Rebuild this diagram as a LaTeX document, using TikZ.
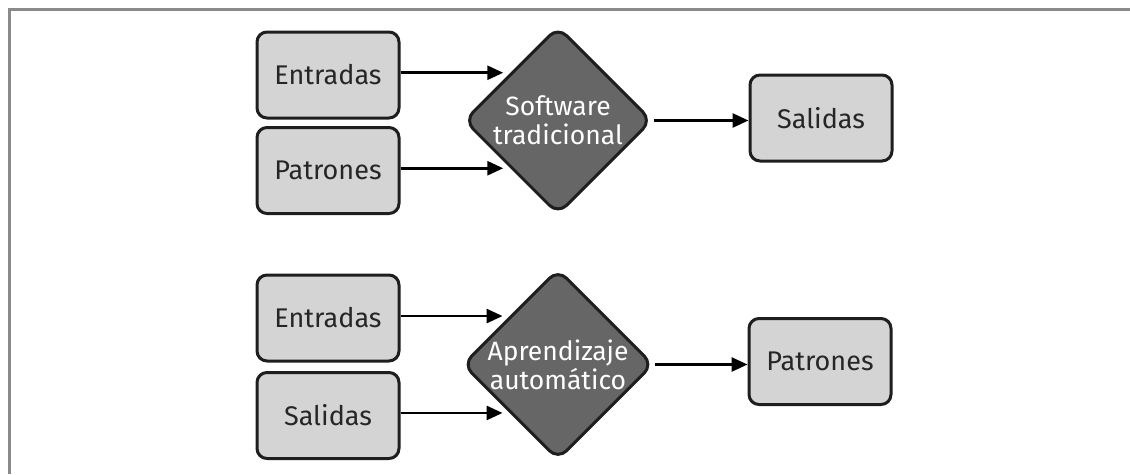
\documentclass[tikz,border=0pt]{standalone}
\usepackage{fontspec}
\setmainfont{Fira Sans}
\usetikzlibrary{shapes.geometric,arrows.meta}
\definecolor{boxfill}{HTML}{D4D4D4}
\definecolor{diafill}{HTML}{666666}
\definecolor{edge}{HTML}{1E1E1E}
\definecolor{framecol}{HTML}{8A8A8A}
\tikzset{
  boxnode/.style={draw=edge, fill=boxfill, line width=3pt, rounded corners=10pt,
    minimum width=142pt, minimum height=86pt, inner sep=0pt,
    font=\fontsize{27}{30}\selectfont, text=black!85},
  dianode/.style={draw=edge, fill=diafill, line width=3pt, diamond, aspect=1,
    rounded corners=12pt, minimum width=188pt, minimum height=188pt, inner sep=0pt,
    font=\fontsize{26.5}{29}\selectfont, text=white, align=center},
  conn/.style={line width=2.8pt, draw=black, -{Triangle[length=16pt,width=14pt]}},
}
\begin{document}
\begin{tikzpicture}[x=1pt,y=-1pt]
\useasboundingbox (0,0) rectangle (1130,474);
\draw[framecol, line width=3pt] (9,474) -- (9,9) -- (1130,9);
% top group
\node[boxnode] (ent1) at (328,75) {Entradas};
\node[boxnode] (pat1) at (328,170.5) {Patrones};
\node[dianode] (soft) at (558,120.5) {Software\\tradicional};
\node[boxnode] (sal1) at (821,118) {Salidas};
\draw[conn, shorten >=7pt] (ent1.east |- soft.north west) -- (soft.north west);
\draw[conn, shorten >=7pt] (pat1.east |- soft.south west) -- (soft.south west);
\draw[conn] (soft.east) -- (sal1.west |- soft.east);
% bottom group
\node[boxnode] (ent2) at (328,318) {Entradas};
\node[boxnode] (sal2) at (328,415.5) {Salidas};
\node[dianode] (apr) at (558,364.5) {Aprendizaje\\automático};
\node[boxnode] (pat2) at (820,361.5) {Patrones};
\draw[conn, shorten >=7pt] (ent2.east |- apr.north west) -- (apr.north west);
\draw[conn, shorten >=7pt] (sal2.east |- apr.south west) -- (apr.south west);
\draw[conn] (apr.east) -- (pat2.west |- apr.east);
\end{tikzpicture}
\end{document}
